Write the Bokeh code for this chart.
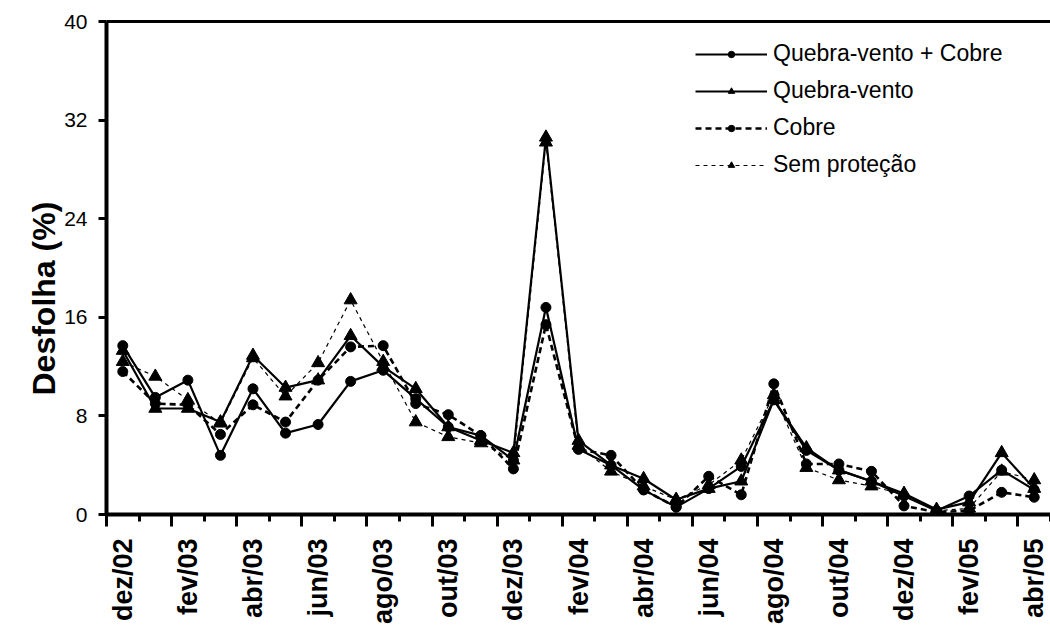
import math

from bokeh.embed import file_html
from bokeh.models import (ColumnDataSource, CustomJSTickFormatter, FixedTicker,
                          Legend, LegendItem, LinearAxis, Range1d, Title)
from bokeh.plotting import figure
from bokeh.resources import INLINE

# Monthly defoliation (%) under four protection treatments
months = ["dez/02", "jan/03", "fev/03", "mar/03", "abr/03", "mai/03", "jun/03",
          "jul/03", "ago/03", "set/03", "out/03", "nov/03", "dez/03", "jan/04",
          "fev/04", "mar/04", "abr/04", "mai/04", "jun/04", "jul/04", "ago/04",
          "set/04", "out/04", "nov/04", "dez/04", "jan/05", "fev/05", "mar/05",
          "abr/05"]

quebra_vento_cobre = [13.7, 9.5, 10.9, 4.8, 10.2, 6.6, 7.3, 10.8, 11.7, 9.4,
                      7.1, 6.4, 4.4, 16.8, 5.3, 4.0, 2.0, 0.6, 2.1, 3.9,
                      9.3, 5.2, 3.6, 2.7, 1.5, 0.3, 1.5, 3.6, 2.0]
quebra_vento = [13.3, 8.6, 8.6, 7.5, 12.9, 10.3, 10.9, 14.5, 12.0, 10.2,
                7.1, 6.0, 5.0, 30.6, 6.0, 4.0, 2.9, 1.2, 2.1, 2.7,
                9.3, 5.4, 3.6, 2.7, 1.7, 0.4, 1.0, 5.0, 2.1]
cobre = [11.6, 9.0, 8.9, 6.5, 8.9, 7.5, 10.9, 13.6, 13.7, 9.0,
         8.1, 6.4, 3.7, 15.4, 5.3, 4.8, 2.0, 0.6, 3.1, 1.6,
         10.6, 4.1, 4.1, 3.5, 0.7, 0.2, 0.3, 1.8, 1.4]
sem_protecao = [12.4, 11.2, 9.3, 7.4, 12.7, 9.6, 12.3, 17.4, 12.4, 7.5,
                6.3, 5.8, 4.4, 30.2, 5.6, 3.5, 2.3, 1.2, 2.4, 4.4,
                9.7, 3.8, 2.8, 2.3, 1.6, 0.3, 0.5, 3.5, 2.8]

y_ticks = [0, 8, 16, 24, 32, 40]

FONT = "Liberation Sans"
n = len(months)

# categories sit in the middle of unit-wide slots
source = ColumnDataSource(dict(
    x=[i + 0.5 for i in range(n)],
    qvc=quebra_vento_cobre,
    qv=quebra_vento,
    cobre=cobre,
    sem=sem_protecao,
))

p = figure(width=1050, height=627, output_backend="svg", toolbar_location=None,
           x_range=Range1d(0, n), y_range=Range1d(0, 40),
           x_axis_location=None, y_axis_location=None,
           min_border_left=106, min_border_right=0,
           min_border_top=21, min_border_bottom=112)
p.outline_line_color = None
p.background_fill_color = "white"
p.border_fill_color = "white"
p.grid.visible = False

# y axis
yaxis = LinearAxis(ticker=FixedTicker(ticks=y_ticks),
                   axis_line_width=4, axis_line_color="black",
                   major_tick_out=8, major_tick_in=0, major_tick_line_width=3,
                   minor_tick_out=0, minor_tick_in=0,
                   major_label_text_font=FONT, major_label_text_font_size="21px",
                   major_label_text_color="black", major_label_standoff=11)
p.add_layout(yaxis, "left")

# y axis title, starting a little above the lower part of the axis
p.add_layout(Title(text="Desfolha (%)", align="left", offset=119,
                   text_font=FONT, text_font_size="32px", text_font_style="bold",
                   text_color="black", standoff=0), "left")

# top border of the plotting area
top_axis = LinearAxis(ticker=FixedTicker(ticks=[]), axis_line_width=3,
                      major_tick_out=0, major_tick_in=0, minor_tick_out=0, minor_tick_in=0,
                      major_label_text_font_size="0px", major_label_standoff=0)
p.add_layout(top_axis, "above")

# x axis: long ticks every two slots, short ticks in between
bounds = list(range(n + 1))
tick_axis = LinearAxis(ticker=FixedTicker(ticks=bounds[::2], minor_ticks=bounds[1::2]),
                       axis_line_width=4, axis_line_color="black",
                       major_tick_out=12, major_tick_in=0, major_tick_line_width=3,
                       minor_tick_out=7, minor_tick_in=0, minor_tick_line_width=3,
                       formatter=CustomJSTickFormatter(code="return ''"),
                       major_label_text_font_size="0px", major_label_standoff=0)
p.add_layout(tick_axis, "below")

# x axis month labels, every other month
label_axis = LinearAxis(ticker=FixedTicker(ticks=[i + 0.5 for i in range(0, n, 2)]),
                        formatter=CustomJSTickFormatter(args=dict(labels=months),
                                                        code="return labels[Math.floor(tick)] || ''"),
                        axis_line_color=None, major_tick_line_color=None,
                        minor_tick_line_color=None,
                        major_label_orientation=math.pi / 2,
                        major_label_text_font=FONT, major_label_text_font_size="27px",
                        major_label_text_font_style="bold", major_label_text_color="black",
                        major_label_standoff=6)
p.add_layout(label_axis, "below")

# series
l4 = p.line("x", "sem", source=source, line_color="black", line_width=1.2, line_dash="4 4")
m4 = p.scatter("x", "sem", source=source, marker="triangle", size=13,
               fill_color="black", line_color="black")
l3 = p.line("x", "cobre", source=source, line_color="black", line_width=2.6, line_dash="6 4")
m3 = p.scatter("x", "cobre", source=source, marker="circle", size=10,
               fill_color="black", line_color="black")
l2 = p.line("x", "qv", source=source, line_color="black", line_width=2.2)
m2 = p.scatter("x", "qv", source=source, marker="triangle", size=13,
               fill_color="black", line_color="black")
l1 = p.line("x", "qvc", source=source, line_color="black", line_width=2.2)
m1 = p.scatter("x", "qvc", source=source, marker="circle", size=10,
               fill_color="black", line_color="black")

legend = Legend(items=[
    LegendItem(label="Quebra-vento + Cobre", renderers=[l1, m1]),
    LegendItem(label="Quebra-vento", renderers=[l2, m2]),
    LegendItem(label="Cobre", renderers=[l3, m3]),
    LegendItem(label="Sem proteção", renderers=[l4, m4]),
], location=(589, 336), glyph_width=72, glyph_height=16,
    label_text_font=FONT, label_text_font_size="23px", label_text_color="black",
    label_standoff=6, spacing=10, padding=0, margin=0,
    border_line_alpha=0, background_fill_alpha=0)
p.add_layout(legend)

open("out.html", "w").write(file_html(p, INLINE))
